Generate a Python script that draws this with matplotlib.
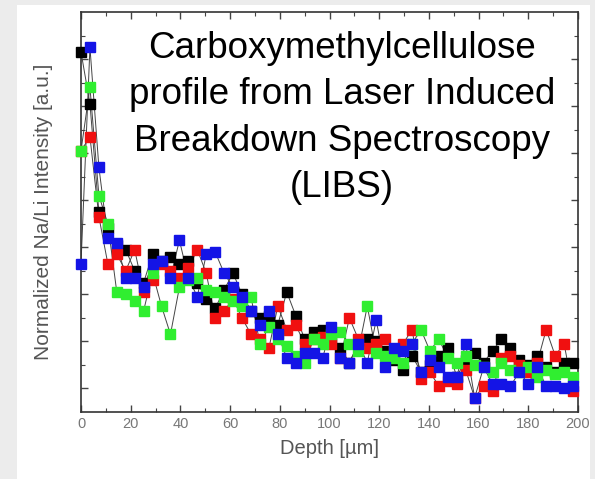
import matplotlib.pyplot as plt
import numpy as np
from matplotlib.patches import Rectangle
from matplotlib.ticker import MultipleLocator, FixedLocator

# depth sampling of the LIBS shots (um)
depth = np.arange(0, 200, 3.6)

# normalized Na/Li intensity for the four measured spots
black_vals = [1.53, 1.31, 0.85, 0.78, 0.71, 0.69, 0.60, 0.55, 0.67, 0.64,
              0.66, 0.63, 0.64, 0.55, 0.48, 0.44, 0.52, 0.59, 0.50, 0.43,
              0.40, 0.41, 0.37, 0.51, 0.41, 0.31, 0.34, 0.35, 0.31, 0.27,
              0.21, 0.29, 0.31, 0.30, 0.26, 0.22, 0.18, 0.24, 0.17, 0.20,
              0.24, 0.27, 0.15, 0.22, 0.25, 0.21, 0.26, 0.31, 0.27, 0.22,
              0.20, 0.24, 0.19, 0.17, 0.21, 0.21]
red_vals = [1.11, 1.17, 0.83, 0.63, 0.67, 0.60, 0.69, 0.51, 0.56, 0.63,
            0.60, 0.57, 0.61, 0.69, 0.59, 0.40, 0.43, 0.48, 0.40, 0.33,
            0.31, 0.27, 0.45, 0.35, 0.37, 0.29, 0.31, 0.32, 0.29, 0.23,
            0.40, 0.31, 0.27, 0.29, 0.31, 0.26, 0.29, 0.35, 0.14, 0.17,
            0.11, 0.13, 0.12, 0.18, 0.06, 0.11, 0.09, 0.23, 0.24, 0.20,
            0.17, 0.21, 0.35, 0.24, 0.29, 0.09]
green_vals = [1.11, 1.38, 0.92, 0.80, 0.51, 0.50, 0.47, 0.43, 0.59, 0.45,
              0.33, 0.53, 0.56, 0.57, 0.52, 0.51, 0.49, 0.47, 0.45, 0.49,
              0.29, 0.36, 0.31, 0.28, 0.24, 0.21, 0.31, 0.29, 0.33, 0.34,
              0.29, 0.26, 0.45, 0.25, 0.24, 0.23, 0.21, 0.29, 0.35, 0.26,
              0.31, 0.23, 0.21, 0.24, 0.20, 0.19, 0.17, 0.21, 0.18, 0.17,
              0.19, 0.15, 0.18, 0.16, 0.17, 0.15]
blue_vals = [0.63, 1.55, 1.04, 0.74, 0.72, 0.57, 0.57, 0.53, 0.63, 0.64,
             0.57, 0.73, 0.57, 0.49, 0.67, 0.68, 0.59, 0.53, 0.49, 0.43,
             0.37, 0.43, 0.33, 0.23, 0.21, 0.25, 0.25, 0.23, 0.36, 0.23,
             0.21, 0.29, 0.21, 0.39, 0.19, 0.27, 0.26, 0.29, 0.17, 0.22,
             0.19, 0.15, 0.15, 0.29, 0.06, 0.19, 0.12, 0.12, 0.11, 0.17,
             0.12, 0.19, 0.11, 0.11, 0.10, 0.11]

series = [
    (black_vals, '#000000'),
    (red_vals, '#f01010'),
    (green_vals, '#30ee30'),
    (blue_vals, '#1414e6'),
]

xticks = [0, 20, 40, 60, 80, 100, 120, 140, 160, 180, 200]

fig = plt.figure(figsize=(5.95, 4.79), dpi=100)
fig.patch.set_facecolor('#ececec')
# white panel behind the plot, leaving a grey strip on the left and top
fig.patches.append(Rectangle((17 / 595, 0), (590 - 17) / 595, 1 - 5 / 479,
                             transform=fig.transFigure, facecolor='white',
                             edgecolor='none', zorder=-5))

ax = fig.add_axes([81 / 595, 1 - 412 / 479, (578 - 81) / 595, (412 - 12) / 479])
ax.set_facecolor('white')
ax.set_zorder(1)

for vals, col in series:
    ax.plot(depth, vals, '-', color='#444444', lw=0.7, zorder=2)
    ax.plot(depth, vals, 's', color=col, ms=6.5, mec=col, zorder=3, clip_on=False)

ax.set_xlim(0, 200)
ax.set_ylim(0, 1.7)
ax.set_xticks(xticks)
ax.set_xticklabels([str(t) for t in xticks], color='#666666', fontsize=10.5,
                   family=['Liberation Sans Narrow', 'Liberation Sans'])
ax.xaxis.set_minor_locator(MultipleLocator(10))
ax.yaxis.set_major_locator(FixedLocator(np.arange(0.1, 1.7, 0.2)))
ax.yaxis.set_minor_locator(FixedLocator(np.arange(0.2, 1.7, 0.2)))
ax.set_yticklabels([])

ax.tick_params(which='both', direction='in', top=True, right=True, colors='#444444')
ax.tick_params(axis='x', which='both', labelcolor='#777777')
ax.tick_params(which='major', length=5, width=1)
ax.tick_params(which='minor', length=3, width=0.8)
for sp in ax.spines.values():
    sp.set_color('#333333')
    sp.set_linewidth(1.2)

ax.set_xlabel('Depth [µm]', fontsize=14.5, color='#555555', family='Liberation Sans', labelpad=6)
ax.set_ylabel('Normalized Na/Li Intensity [a.u.]', fontsize=15, color='#555555',
              family='Liberation Sans', labelpad=17)

fig.text(342 / 595, 1 - 118 / 479,
         'Carboxymethylcellulose\nprofile from Laser Induced\nBreakdown Spectroscopy\n(LIBS)',
         ha='center', va='center', fontsize=26.5, family='Liberation Sans',
         linespacing=1.42, color='black', zorder=5)

plt.savefig('out.png', dpi=100)
plt.close()
